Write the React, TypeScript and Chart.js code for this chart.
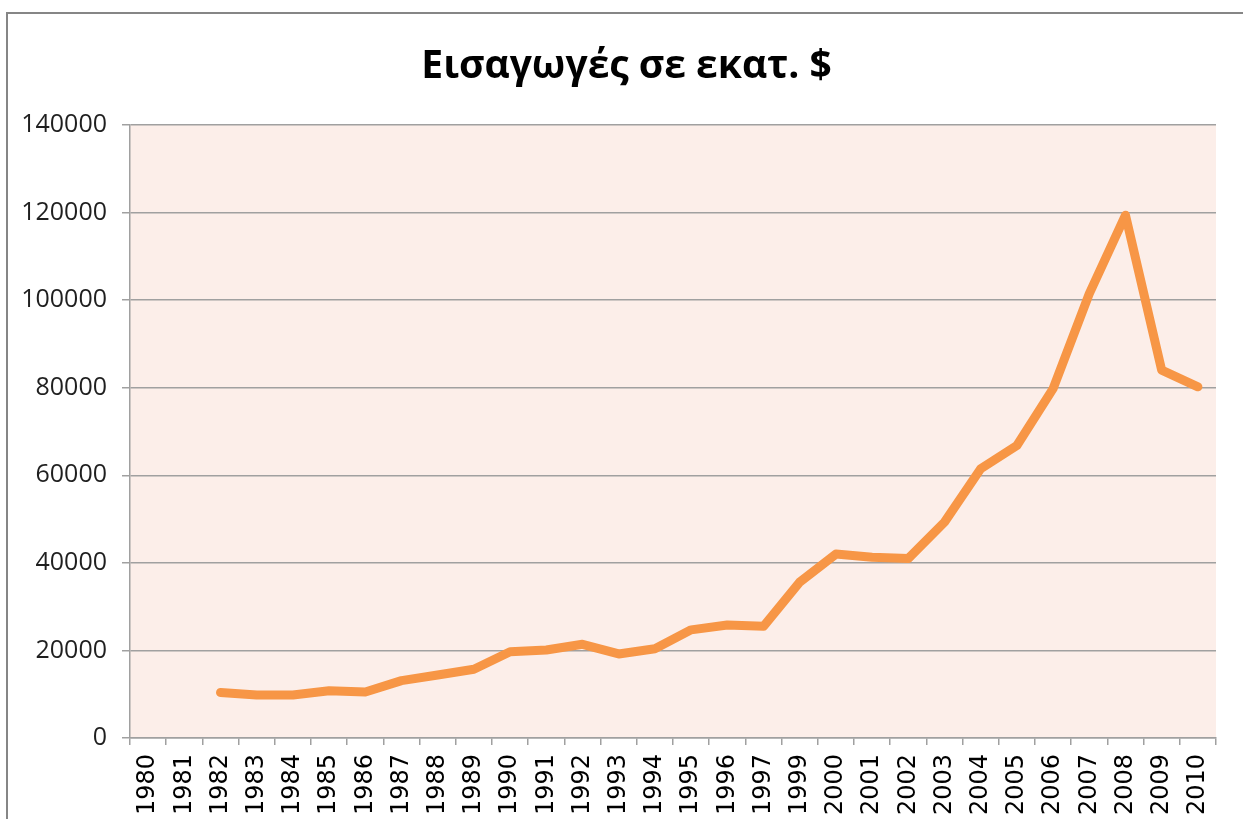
import React, { useEffect, useRef } from "react";
import { Chart, registerables } from "chart.js";

Chart.register(...registerables);

const TITLE = "Εισαγωγές σε εκατ. $";

const years: string[] = [
  "1980", "1981", "1982", "1983", "1984", "1985", "1986", "1987", "1988", "1989",
  "1990", "1991", "1992", "1993", "1994", "1995", "1996", "1997", "1999", "2000",
  "2001", "2002", "2003", "2004", "2005", "2006", "2007", "2008", "2009", "2010",
];

const imports: (number | null)[] = [
  null, null, 10400, 9800, 9800, 10800, 10500, 13100, 14400, 15700,
  19700, 20100, 21400, 19200, 20400, 24700, 25800, 25500, 35600, 42000,
  41300, 41000, 49300, 61500, 66800, 79800, 101500, 119400, 84000, 80200,
];

const Y_MIN = 0;
const Y_MAX = 140000;
const Y_STEP = 20000;

const plotBg = {
  id: "plotBg",
  beforeDraw(chart: any) {
    const { ctx, chartArea: a } = chart;
    ctx.save();
    ctx.fillStyle = "#FCEEE9";
    ctx.fillRect(a.left, a.top, a.right - a.left, a.bottom - a.top);
    ctx.restore();
  },
};

// chart title, centred on the outer chart frame rather than the plot area
const frameTitle = {
  id: "frameTitle",
  afterDraw(chart: any) {
    const { ctx } = chart;
    ctx.save();
    ctx.fillStyle = "#000000";
    ctx.font = "bold 39px 'Open Sans'";
    ctx.textAlign = "center";
    ctx.textBaseline = "alphabetic";
    ctx.fillText(TITLE, (6 + chart.width) / 2 + 2, 78);
    ctx.restore();
  },
};

export default function App() {
  const ref = useRef<HTMLCanvasElement | null>(null);

  useEffect(() => {
    if (!ref.current) return;
    const chart = new Chart(ref.current, {
      type: "line",
      data: {
        labels: years,
        datasets: [
          {
            data: imports,
            borderColor: "#F79646",
            backgroundColor: "#F79646",
            borderWidth: 9,
            pointRadius: 0,
            borderCapStyle: "round",
            borderJoinStyle: "round",
            tension: 0,
            fill: false,
          },
        ],
      },
      options: {
        responsive: false,
        animation: false,
        devicePixelRatio: 1,
        layout: { padding: { left: 0, right: 27, top: 125, bottom: 0 } },
        plugins: {
          legend: { display: false },
          tooltip: { enabled: false },
          title: { display: false },
        },
        scales: {
          x: {
            type: "category",
            offset: true,
            grid: {
              offset: true,
              drawOnChartArea: false,
              drawTicks: true,
              tickLength: 7,
              color: "#a0a0a0",
              lineWidth: 1.5,
            },
            border: { color: "#a0a0a0", width: 1.5 },
            ticks: {
              autoSkip: false,
              minRotation: 90,
              maxRotation: 90,
              padding: 9,
              color: "#000000",
              font: { family: "'DejaVu Sans'", size: 24 },
            },
            afterFit: (s: any) => {
              s.height = 81;
            },
          },
          y: {
            min: Y_MIN,
            max: Y_MAX,
            grid: { color: "#a0a0a0", lineWidth: 1.5, tickLength: 8 },
            border: { color: "#a0a0a0", width: 1.5 },
            ticks: {
              stepSize: Y_STEP,
              padding: 15,
              color: "#1f1f1f",
              font: { family: "'Open Sans'", size: 25 },
              callback: (v: any) => String(v),
            },
            afterFit: (s: any) => {
              s.width = 130;
            },
          },
        },
      },
      plugins: [plotBg, frameTitle],
    });
    return () => chart.destroy();
  }, []);

  return (
    <div
      style={{
        position: "fixed",
        left: 0,
        top: 0,
        width: 1243,
        height: 819,
        background: "#ffffff",
        overflow: "hidden",
      }}
    >
      <canvas
        ref={ref}
        width={1243}
        height={819}
        style={{ position: "absolute", left: 0, top: 0, width: 1243, height: 819 }}
      />
      <div
        style={{
          position: "absolute",
          left: 6,
          top: 12,
          width: 1300,
          height: 900,
          borderTop: "2px solid #868686",
          borderLeft: "2px solid #868686",
          pointerEvents: "none",
        }}
      />
    </div>
  );
}
